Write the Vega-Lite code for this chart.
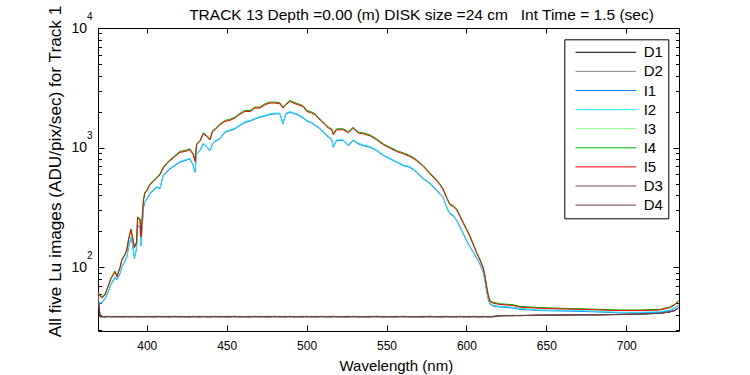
{
"$schema":"https://vega.github.io/schema/vega-lite/v6.json",
"width":581,"height":303,
"autosize":{"type":"none"},
"padding":{"left":98,"top":28,"right":71,"bottom":44},
"background":"white",
"title":{"text":"TRACK 13 Depth =0.00 (m) DISK size =24 cm\u00a0\u00a0\u00a0Int Time = 1.5 (sec)","font":"Liberation Sans","fontSize":15.5,"fontWeight":"normal","color":"black","anchor":"middle","frame":"group","dx":33,"offset":0,"dy":30,"baseline":"alphabetic"},
"config":{"view":{"stroke":"black","strokeWidth":1},"axis":{"grid":false,"domain":false,"tickColor":"black","tickWidth":1,"labelColor":"black","titleColor":"black","labelFont":"Liberation Sans","titleFont":"Liberation Sans","titleFontWeight":"normal"}},
"resolve":{"axis":{"x":"independent","y":"independent"}},
"layer":[
{"data":{"values":[
{"w":369.5,"D1":58,"D2":57,"I1":50.4,"I2":51.2,"I3":61.5,"I4":62.1,"I5":60.9,"D3":57.5,"D4":58.5},
{"w":370.8,"D1":38.4,"D2":38.9,"I1":49.5,"I2":50.3,"I3":58.1,"I4":58.7,"I5":57.5,"D3":38.5,"D4":38.7},
{"w":372.0,"D1":38.7,"D2":38.5,"I1":50.4,"I2":51.2,"I3":56.0,"I4":56.5,"I5":55.4,"D3":38.8,"D4":38.4},
{"w":373.9,"D1":38.5,"D2":38.9,"I1":54.6,"I2":55.4,"I3":59.2,"I4":59.8,"I5":58.6,"D3":38.3,"D4":38.6},
{"w":375.8,"D1":38.6,"D2":38.4,"I1":61.2,"I2":62.1,"I3":69.1,"I4":69.8,"I5":68.4,"D3":38.7,"D4":38.9},
{"w":377.6,"D1":38.8,"D2":38.6,"I1":71.4,"I2":72.5,"I3":80.6,"I4":81.4,"I5":79.8,"D3":38.4,"D4":38.5},
{"w":380.1,"D1":38.4,"D2":38.9,"I1":81.8,"I2":83.0,"I3":92.2,"I4":93.1,"I5":91.3,"D3":38.6,"D4":38.7},
{"w":381.4,"D1":38.8,"D2":38.5,"I1":78.6,"I2":79.8,"I3":83.8,"I4":84.7,"I5":83.0,"D3":38.9,"D4":38.4},
{"w":383.3,"D1":38.6,"D2":38.3,"I1":88.3,"I2":89.6,"I3":99.7,"I4":100.7,"I5":98.7,"D3":38.4,"D4":38.8},
{"w":384.5,"D1":38.5,"D2":38.7,"I1":101.0,"I2":102.5,"I3":116.3,"I4":117.4,"I5":115.1,"D3":38.8,"D4":38.5},
{"w":386.4,"D1":38.4,"D2":38.9,"I1":111.2,"I2":112.9,"I3":128.0,"I4":129.2,"I5":126.7,"D3":38.6,"D4":38.7},
{"w":387.6,"D1":38.8,"D2":38.5,"I1":122.4,"I2":124.3,"I3":140.9,"I4":142.3,"I5":139.5,"D3":38.9,"D4":38.4},
{"w":388.6,"D1":38.6,"D2":38.3,"I1":145.7,"I2":147.9,"I3":170.9,"I4":172.6,"I5":169.2,"D3":38.4,"D4":38.8},
{"w":390.1,"D1":38.5,"D2":38.7,"I1":176.6,"I2":179.3,"I3":207.3,"I4":209.3,"I5":205.2,"D3":38.8,"D4":38.5},
{"w":391.1,"D1":38.4,"D2":38.9,"I1":154.3,"I2":156.7,"I3":177.7,"I4":179.4,"I5":175.9,"D3":38.6,"D4":38.7},
{"w":392.3,"D1":38.8,"D2":38.5,"I1":117.8,"I2":119.6,"I3":146.5,"I4":147.9,"I5":145.0,"D3":38.9,"D4":38.4},
{"w":393.6,"D1":38.6,"D2":38.3,"I1":142.8,"I2":145.0,"I3":161.3,"I4":162.9,"I5":159.7,"D3":38.4,"D4":38.8},
{"w":394.3,"D1":38.5,"D2":38.7,"I1":222.5,"I2":225.9,"I3":261.2,"I4":263.8,"I5":258.6,"D3":38.8,"D4":38.5},
{"w":395.8,"D1":38.4,"D2":38.9,"I1":214.1,"I2":217.4,"I3":251.3,"I4":253.8,"I5":248.8,"D3":38.6,"D4":38.7},
{"w":396.4,"D1":38.8,"D2":38.5,"I1":151.4,"I2":153.7,"I3":181.1,"I4":182.9,"I5":179.3,"D3":38.9,"D4":38.4},
{"w":397.2,"D1":38.6,"D2":38.3,"I1":222.5,"I2":225.9,"I3":266.2,"I4":268.9,"I5":263.6,"D3":38.4,"D4":38.8},
{"w":398.0,"D1":38.5,"D2":38.7,"I1":314.7,"I2":319.5,"I3":369.5,"I4":373.1,"I5":365.8,"D3":38.8,"D4":38.5},
{"w":398.9,"D1":38.4,"D2":38.9,"I1":353.4,"I2":358.8,"I3":422.8,"I4":427.0,"I5":418.6,"D3":38.6,"D4":38.7},
{"w":400.2,"D1":38.8,"D2":38.5,"I1":374.5,"I2":380.2,"I3":439.5,"I4":443.8,"I5":435.1,"D3":38.9,"D4":38.4},
{"w":402.0,"D1":38.6,"D2":38.3,"I1":412.3,"I2":418.6,"I3":493.2,"I4":498.1,"I5":488.3,"D3":38.4,"D4":38.8},
{"w":404.1,"D1":38.5,"D2":38.7,"I1":436.9,"I2":443.6,"I3":525.5,"I4":530.7,"I5":520.3,"D3":38.8,"D4":38.5},
{"w":406.2,"D1":38.4,"D2":38.9,"I1":465.5,"I2":472.6,"I3":561.2,"I4":566.7,"I5":555.6,"D3":38.6,"D4":38.7},
{"w":408.3,"D1":38.8,"D2":38.5,"I1":454.0,"I2":460.9,"I3":598.1,"I4":604.0,"I5":592.2,"D3":38.9,"D4":38.4},
{"w":410.3,"D1":38.6,"D2":38.3,"I1":583.3,"I2":592.2,"I3":680.4,"I4":687.2,"I5":673.7,"D3":38.4,"D4":38.8},
{"w":412.5,"D1":38.5,"D2":38.7,"I1":621.5,"I2":631.0,"I3":739.0,"I4":746.3,"I5":731.7,"D3":38.8,"D4":38.5},
{"w":414.5,"D1":38.4,"D2":38.9,"I1":663.6,"I2":673.7,"I3":783.0,"I4":790.7,"I5":775.2,"D3":38.6,"D4":38.7},
{"w":417.7,"D1":38.8,"D2":38.5,"I1":707.0,"I2":717.8,"I3":850.7,"I4":859.1,"I5":842.3,"D3":38.9,"D4":38.4},
{"w":420.8,"D1":38.6,"D2":38.3,"I1":753.4,"I2":764.9,"I3":922.5,"I4":931.7,"I5":913.4,"D3":38.4,"D4":38.8},
{"w":423.9,"D1":38.5,"D2":38.7,"I1":778.5,"I2":790.4,"I3":936.9,"I4":946.2,"I5":927.6,"D3":38.8,"D4":38.5},
{"w":427.0,"D1":38.4,"D2":38.9,"I1":804.4,"I2":816.7,"I3":968.1,"I4":977.7,"I5":958.5,"D3":38.6,"D4":38.7},
{"w":429.1,"D1":38.8,"D2":38.5,"I1":707.0,"I2":717.8,"I3":879.0,"I4":887.7,"I5":870.3,"D3":38.9,"D4":38.4},
{"w":430.2,"D1":38.6,"D2":38.3,"I1":621.5,"I2":631.0,"I3":772.5,"I4":780.2,"I5":764.9,"D3":38.4,"D4":38.8},
{"w":431.2,"D1":38.5,"D2":38.7,"I1":886.0,"I2":899.5,"I3":1066,"I4":1076,"I5":1055,"D3":38.8,"D4":38.5},
{"w":433.3,"D1":38.4,"D2":38.9,"I1":944.1,"I2":958.5,"I3":1136,"I4":1148,"I5":1125,"D3":38.6,"D4":38.7},
{"w":435.4,"D1":38.8,"D2":38.5,"I1":1075,"I2":1091,"I3":1318,"I4":1331,"I5":1305,"D3":38.9,"D4":38.4},
{"w":437.5,"D1":38.6,"D2":38.3,"I1":1006,"I2":1021,"I3":1250,"I4":1263,"I5":1238,"D3":38.4,"D4":38.8},
{"w":439.6,"D1":38.5,"D2":38.7,"I1":944.1,"I2":958.5,"I3":1174,"I4":1185,"I5":1162,"D3":38.8,"D4":38.5},
{"w":441.1,"D1":38.4,"D2":38.9,"I1":1075,"I2":1091,"I3":1370,"I4":1383,"I5":1356,"D3":38.6,"D4":38.7},
{"w":442.7,"D1":38.8,"D2":38.5,"I1":1123,"I2":1140,"I3":1423,"I4":1437,"I5":1409,"D3":38.9,"D4":38.4},
{"w":445.8,"D1":38.6,"D2":38.3,"I1":1183,"I2":1201,"I3":1568,"I4":1583,"I5":1552,"D3":38.4,"D4":38.8},
{"w":448.9,"D1":38.5,"D2":38.7,"I1":1344,"I2":1364,"I3":1671,"I4":1687,"I5":1654,"D3":38.8,"D4":38.5},
{"w":452.1,"D1":38.4,"D2":38.9,"I1":1388,"I2":1409,"I3":1709,"I4":1726,"I5":1692,"D3":38.6,"D4":38.7},
{"w":455.2,"D1":38.8,"D2":38.5,"I1":1434,"I2":1456,"I3":1784,"I4":1801,"I5":1766,"D3":38.9,"D4":38.4},
{"w":458.3,"D1":38.6,"D2":38.3,"I1":1529,"I2":1552,"I3":1919,"I4":1938,"I5":1900,"D3":38.4,"D4":38.8},
{"w":461.4,"D1":38.5,"D2":38.7,"I1":1619,"I2":1644,"I3":2025,"I4":2045,"I5":2005,"D3":38.8,"D4":38.5},
{"w":464.6,"D1":38.4,"D2":38.9,"I1":1667,"I2":1692,"I3":2025,"I4":2045,"I5":2005,"D3":38.6,"D4":38.7},
{"w":467.7,"D1":38.8,"D2":38.5,"I1":1733,"I2":1759,"I3":2161,"I4":2183,"I5":2140,"D3":38.9,"D4":38.4},
{"w":470.8,"D1":38.6,"D2":38.3,"I1":1794,"I2":1821,"I3":2161,"I4":2183,"I5":2140,"D3":38.4,"D4":38.8},
{"w":474.0,"D1":38.5,"D2":38.7,"I1":1835,"I2":1863,"I3":2304,"I4":2327,"I5":2281,"D3":38.8,"D4":38.5},
{"w":477.1,"D1":38.4,"D2":38.9,"I1":1889,"I2":1918,"I3":2381,"I4":2404,"I5":2357,"D3":38.6,"D4":38.7},
{"w":480.2,"D1":38.8,"D2":38.5,"I1":1915,"I2":1944,"I3":2381,"I4":2404,"I5":2357,"D3":38.9,"D4":38.4},
{"w":483.3,"D1":38.6,"D2":38.3,"I1":1915,"I2":1944,"I3":2348,"I4":2372,"I5":2325,"D3":38.4,"D4":38.8},
{"w":485.2,"D1":38.5,"D2":38.7,"I1":1579,"I2":1603,"I3":2161,"I4":2183,"I5":2140,"D3":38.8,"D4":38.5},
{"w":487.1,"D1":38.4,"D2":38.9,"I1":1915,"I2":1944,"I3":2304,"I4":2327,"I5":2281,"D3":38.6,"D4":38.7},
{"w":489.6,"D1":38.8,"D2":38.5,"I1":1975,"I2":2005,"I3":2455,"I4":2480,"I5":2431,"D3":38.9,"D4":38.4},
{"w":492.1,"D1":38.6,"D2":38.3,"I1":1926,"I2":1955,"I3":2371,"I4":2395,"I5":2348,"D3":38.4,"D4":38.8},
{"w":494.6,"D1":38.5,"D2":38.7,"I1":1872,"I2":1900,"I3":2304,"I4":2327,"I5":2281,"D3":38.8,"D4":38.5},
{"w":497.7,"D1":38.4,"D2":38.9,"I1":1766,"I2":1793,"I3":2229,"I4":2251,"I5":2207,"D3":38.6,"D4":38.7},
{"w":500.2,"D1":38.8,"D2":38.5,"I1":1667,"I2":1692,"I3":2025,"I4":2045,"I5":2005,"D3":38.9,"D4":38.4},
{"w":503.2,"D1":38.6,"D2":38.3,"I1":1604,"I2":1628,"I3":1963,"I4":1983,"I5":1944,"D3":38.4,"D4":38.8},
{"w":505.2,"D1":38.5,"D2":38.7,"I1":1529,"I2":1552,"I3":1901,"I4":1920,"I5":1882,"D3":38.8,"D4":38.5},
{"w":507.3,"D1":38.4,"D2":38.9,"I1":1471,"I2":1493,"I3":1784,"I4":1801,"I5":1766,"D3":38.6,"D4":38.7},
{"w":509.4,"D1":38.8,"D2":38.5,"I1":1388,"I2":1409,"I3":1671,"I4":1687,"I5":1654,"D3":38.9,"D4":38.4},
{"w":511.6,"D1":38.6,"D2":38.3,"I1":1302,"I2":1322,"I3":1568,"I4":1583,"I5":1552,"D3":38.4,"D4":38.8},
{"w":513.6,"D1":38.5,"D2":38.7,"I1":1224,"I2":1243,"I3":1471,"I4":1485,"I5":1456,"D3":38.8,"D4":38.5},
{"w":515.7,"D1":38.4,"D2":38.9,"I1":1167,"I2":1185,"I3":1423,"I4":1437,"I5":1409,"D3":38.6,"D4":38.7},
{"w":516.7,"D1":38.8,"D2":38.5,"I1":1006,"I2":1021,"I3":1293,"I4":1306,"I5":1280,"D3":38.9,"D4":38.4},
{"w":518.8,"D1":38.6,"D2":38.3,"I1":1145,"I2":1162,"I3":1423,"I4":1437,"I5":1409,"D3":38.4,"D4":38.8},
{"w":522.9,"D1":38.5,"D2":38.7,"I1":1145,"I2":1162,"I3":1423,"I4":1437,"I5":1409,"D3":38.8,"D4":38.5},
{"w":526.1,"D1":38.4,"D2":38.9,"I1":1039,"I2":1055,"I3":1343,"I4":1357,"I5":1330,"D3":38.6,"D4":38.7},
{"w":529.2,"D1":38.8,"D2":38.5,"I1":1145,"I2":1162,"I3":1471,"I4":1485,"I5":1456,"D3":38.9,"D4":38.4},
{"w":532.3,"D1":38.6,"D2":38.3,"I1":1075,"I2":1091,"I3":1335,"I4":1348,"I5":1322,"D3":38.4,"D4":38.8},
{"w":535.4,"D1":38.5,"D2":38.7,"I1":1039,"I2":1055,"I3":1318,"I4":1331,"I5":1305,"D3":38.8,"D4":38.5},
{"w":539.6,"D1":38.4,"D2":38.9,"I1":1006,"I2":1021,"I3":1268,"I4":1280,"I5":1255,"D3":38.6,"D4":38.7},
{"w":543.8,"D1":38.8,"D2":38.5,"I1":944.1,"I2":958.5,"I3":1174,"I4":1185,"I5":1162,"D3":38.9,"D4":38.4},
{"w":548.0,"D1":38.6,"D2":38.3,"I1":857.2,"I2":870.3,"I3":1066,"I4":1076,"I5":1055,"D3":38.4,"D4":38.8},
{"w":552.1,"D1":38.5,"D2":38.7,"I1":804.4,"I2":816.7,"I3":1000,"I4":1010,"I5":990,"D3":38.8,"D4":38.5},
{"w":556.3,"D1":38.4,"D2":38.9,"I1":753.4,"I2":764.9,"I3":936.9,"I4":946.2,"I5":927.6,"D3":38.6,"D4":38.7},
{"w":560.5,"D1":38.8,"D2":38.5,"I1":707.0,"I2":717.8,"I3":896.2,"I4":905.0,"I5":887.3,"D3":38.9,"D4":38.4},
{"w":564.7,"D1":38.6,"D2":38.3,"I1":684.2,"I2":694.6,"I3":850.7,"I4":859.1,"I5":842.3,"D3":38.4,"D4":38.8},
{"w":568.8,"D1":38.5,"D2":38.7,"I1":621.5,"I2":631.0,"I3":786.1,"I4":793.9,"I5":778.3,"D3":38.8,"D4":38.5},
{"w":573.0,"D1":38.4,"D2":38.9,"I1":547.3,"I2":555.6,"I3":701.5,"I4":708.5,"I5":694.6,"D3":38.6,"D4":38.7},
{"w":577.2,"D1":38.8,"D2":38.5,"I1":499.8,"I2":507.4,"I3":609.8,"I4":615.9,"I5":603.8,"D3":38.9,"D4":38.4},
{"w":581.4,"D1":38.6,"D2":38.3,"I1":436.9,"I2":443.6,"I3":532.7,"I4":537.9,"I5":527.4,"D3":38.4,"D4":38.8},
{"w":583.4,"D1":38.5,"D2":38.7,"I1":408.4,"I2":414.6,"I3":493.2,"I4":498.1,"I5":488.3,"D3":38.8,"D4":38.5},
{"w":585.5,"D1":38.4,"D2":38.9,"I1":381.8,"I2":387.6,"I3":448.0,"I4":452.5,"I5":443.6,"D3":38.6,"D4":38.7},
{"w":587.6,"D1":38.8,"D2":38.5,"I1":316.6,"I2":321.4,"I3":381.8,"I4":385.6,"I5":378.0,"D3":38.9,"D4":38.4},
{"w":589.7,"D1":38.6,"D2":38.3,"I1":278.9,"I2":283.1,"I3":335.4,"I4":338.7,"I5":332.1,"D3":38.4,"D4":38.8},
{"w":591.7,"D1":38.5,"D2":38.7,"I1":269.9,"I2":274.0,"I3":324.6,"I4":327.8,"I5":321.4,"D3":38.8,"D4":38.5},
{"w":593.9,"D1":38.4,"D2":38.9,"I1":245.1,"I2":248.8,"I3":304.6,"I4":307.6,"I5":301.6,"D3":38.6,"D4":38.7},
{"w":596.0,"D1":38.8,"D2":38.5,"I1":215.3,"I2":218.6,"I3":267.8,"I4":270.4,"I5":265.1,"D3":38.9,"D4":38.4},
{"w":598.0,"D1":38.6,"D2":38.3,"I1":190.7,"I2":193.6,"I3":235.7,"I4":238.1,"I5":233.4,"D3":38.4,"D4":38.8},
{"w":600.1,"D1":38.5,"D2":38.7,"I1":166.7,"I2":169.2,"I3":207.3,"I4":209.3,"I5":205.2,"D3":38.8,"D4":38.5},
{"w":602.2,"D1":38.4,"D2":38.9,"I1":148.4,"I2":150.7,"I3":182.2,"I4":184.0,"I5":180.4,"D3":38.6,"D4":38.7},
{"w":604.3,"D1":38.8,"D2":38.5,"I1":133.1,"I2":135.1,"I3":155.2,"I4":156.8,"I5":153.7,"D3":38.9,"D4":38.4},
{"w":606.4,"D1":38.6,"D2":38.3,"I1":119.0,"I2":120.8,"I3":132.3,"I4":133.6,"I5":131.0,"D3":38.4,"D4":38.8},
{"w":608.4,"D1":38.5,"D2":38.7,"I1":106.4,"I2":108.0,"I3":116.3,"I4":117.4,"I5":115.1,"D3":38.8,"D4":38.5},
{"w":610.5,"D1":38.4,"D2":38.9,"I1":90.5,"I2":91.9,"I3":99.1,"I4":100.1,"I5":98.1,"D3":38.6,"D4":38.7},
{"w":611.6,"D1":38.8,"D2":38.5,"I1":77.1,"I2":78.3,"I3":84.2,"I4":85.1,"I5":83.4,"D3":38.9,"D4":38.4},
{"w":612.6,"D1":38.6,"D2":38.3,"I1":63.6,"I2":64.6,"I3":69.5,"I4":70.2,"I5":68.8,"D3":38.4,"D4":38.8},
{"w":613.6,"D1":38.5,"D2":38.7,"I1":54.2,"I2":55.0,"I3":59.2,"I4":59.8,"I5":58.6,"D3":38.8,"D4":38.5},
{"w":614.7,"D1":38.4,"D2":38.9,"I1":49.3,"I2":50.0,"I3":52.0,"I4":52.5,"I5":51.5,"D3":38.6,"D4":38.7},
{"w":616.8,"D1":38.8,"D2":38.5,"I1":47.2,"I2":47.9,"I3":50.5,"I4":51.0,"I5":50.0,"D3":38.9,"D4":38.4},
{"w":621.0,"D1":39.2,"D2":39.5,"I1":46.5,"I2":47.2,"I3":49.2,"I4":49.5,"I5":48.8,"D3":39.3,"D4":39.4},
{"w":629.3,"D1":39.5,"D2":39.2,"I1":45.6,"I2":46.3,"I3":48.3,"I4":48.6,"I5":47.9,"D3":39.6,"D4":39.3},
{"w":633.5,"D1":39.4,"D2":39.7,"I1":44.5,"I2":45.2,"I3":46.7,"I4":47.0,"I5":46.3,"D3":39.3,"D4":39.5},
{"w":646.0,"D1":39.8,"D2":39.5,"I1":43.4,"I2":43.9,"I3":45.7,"I4":46.0,"I5":45.4,"D3":39.9,"D4":39.6},
{"w":658.5,"D1":39.7,"D2":40.0,"I1":43.1,"I2":43.7,"I3":45.1,"I4":45.4,"I5":44.8,"D3":39.8,"D4":39.9},
{"w":671.0,"D1":40.1,"D2":39.8,"I1":42.8,"I2":43.4,"I3":44.8,"I4":45.0,"I5":44.5,"D3":40.2,"D4":39.9},
{"w":683.5,"D1":39.9,"D2":40.2,"I1":42.2,"I2":42.7,"I3":44.2,"I4":44.4,"I5":43.9,"D3":40.0,"D4":40.1},
{"w":696.0,"D1":40.4,"D2":40.1,"I1":41.6,"I2":42.0,"I3":43.6,"I4":43.9,"I5":43.4,"D3":40.3,"D4":40.2},
{"w":708.5,"D1":40.5,"D2":40.8,"I1":41.6,"I2":42.0,"I3":43.6,"I4":43.9,"I5":43.4,"D3":40.6,"D4":40.7},
{"w":721.0,"D1":41.3,"D2":41.0,"I1":42.0,"I2":42.5,"I3":44.2,"I4":44.4,"I5":43.9,"D3":41.2,"D4":41.1},
{"w":727.2,"D1":42.2,"D2":42.5,"I1":43.4,"I2":43.9,"I3":46.2,"I4":46.5,"I5":45.9,"D3":42.3,"D4":42.4},
{"w":730.4,"D1":43.6,"D2":43.3,"I1":45.3,"I2":45.9,"I3":48.7,"I4":49.0,"I5":48.4,"D3":43.5,"D4":43.4},
{"w":732.6,"D1":45.5,"D2":45.8,"I1":47.8,"I2":48.4,"I3":52.5,"I4":52.8,"I5":52.2,"D3":45.6,"D4":45.7}
]},
"transform":[{"fold":["D1","D2","I1","I2","I3","I4","I5","D3","D4"],"as":["series","v"]}],
"mark":{"type":"line","strokeWidth":1,"clip":true},
"encoding":{
"x":{"field":"w","type":"quantitative","scale":{"domain":[369.5,733],"nice":false,"zero":false},"axis":{"orient":"bottom","values":[400,450,500,550,600,650,700],"tickSize":-6,"labelFontSize":12,"labelBaseline":"alphabetic","labelPadding":24.3,"labelFlush":false,"title":"Wavelength (nm)","titleFontSize":15,"titleX":297.8,"titleY":39,"titleBaseline":"alphabetic","titleAlign":"center"}},
"y":{"field":"v","type":"quantitative","scale":{"type":"log","domain":[29.3,10000],"nice":false},"axis":{"orient":"left","values":[100,1000,10000],"labelExpr":"'10'","tickSize":-6,"labelFontSize":14,"labelPadding":17.5,"labelBaseline":"middle","title":"All five Lu images (ADU/pix/sec) for Track 1","titleFontSize":17.2,"titleX":-38,"titleY":143,"titleAngle":-90,"titleBaseline":"alphabetic","titleAlign":"center"}},
"color":{"field":"series","type":"nominal","scale":{"domain":["D1","D2","I1","I2","I3","I4","I5","D3","D4"],"range":["#000000","#8c8c8c","#0080ff","#22e6ff","#80ff80","#00b400","#ff0000","#7f4c4c","#6e3e3e"]},"legend":{"orient":"none","legendX":466.3,"legendY":11.3,"title":null,"symbolType":"M-0.24,0H7.85","symbolSize":225,"symbolStrokeWidth":1,"symbolFillColor":"transparent","labelFont":"Liberation Sans","labelFontSize":15,"labelColor":"black","strokeColor":"black","fillColor":"white","padding":5,"rowPadding":3.1,"labelOffset":58.4,"labelLimit":100}}
}},
{"data":{"values":[{"w":400,"v":100}]},"mark":{"type":"point","opacity":0},
"encoding":{
"x":{"field":"w","type":"quantitative","scale":{"domain":[369.5,733],"nice":false,"zero":false},"axis":{"orient":"top","values":[400,450,500,550,600,650,700],"tickSize":-5,"labels":false,"title":null}},
"y":{"field":"v","type":"quantitative","scale":{"type":"log","domain":[29.3,10000],"nice":false},"axis":{"orient":"right","values":[100,1000,10000],"tickSize":-6,"labels":false,"title":null}}}},
{"data":{"values":[{"w":400,"v":100}]},"mark":{"type":"point","opacity":0},
"encoding":{
"x":{"field":"w","type":"quantitative","scale":{"domain":[369.5,733],"nice":false,"zero":false},"axis":null},
"y":{"field":"v","type":"quantitative","scale":{"type":"log","domain":[29.3,10000],"nice":false},"axis":{"orient":"left","values":[30,40,50,60,70,80,90,200,300,400,500,600,700,800,900,2000,3000,4000,5000,6000,7000,8000,9000],"tickSize":-3.5,"labels":false,"title":null}}}},
{"data":{"values":[{"w":400,"v":100}]},"mark":{"type":"point","opacity":0},
"encoding":{
"x":{"field":"w","type":"quantitative","scale":{"domain":[369.5,733],"nice":false,"zero":false},"axis":null},
"y":{"field":"v","type":"quantitative","scale":{"type":"log","domain":[29.3,10000],"nice":false},"axis":{"orient":"right","values":[30,40,50,60,70,80,90,200,300,400,500,600,700,800,900,2000,3000,4000,5000,6000,7000,8000,9000],"tickSize":-3.5,"labels":false,"title":null}}}},
{"data":{"values":[{"w":400,"v":100}]},"mark":{"type":"point","opacity":0},
"encoding":{
"x":{"field":"w","type":"quantitative","scale":{"domain":[369.5,733],"nice":false,"zero":false},"axis":null},
"y":{"field":"v","type":"quantitative","scale":{"type":"log","domain":[29.3,10000],"nice":false},"axis":{"orient":"left","values":[100,1000,10000],"labelExpr":"datum.value < 500 ? '2' : datum.value < 5000 ? '3' : '4'","ticks":false,"labelFontSize":10,"labelAlign":"left","labelPadding":11.5,"labelOffset":-12,"labelBaseline":"middle","title":null}}}}
]
}
